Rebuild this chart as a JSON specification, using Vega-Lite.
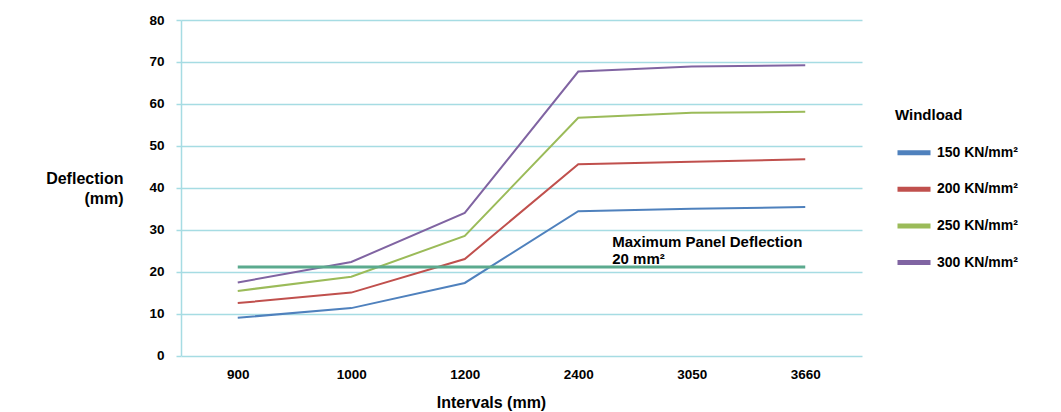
{
  "$schema": "https://vega.github.io/schema/vega-lite/v6.json",
  "width": 681,
  "height": 335.5,
  "autosize": {"type": "none"},
  "padding": {"left": 181, "top": 20, "right": 199, "bottom": 56.5},
  "background": "white",
  "config": {
    "view": {"stroke": null},
    "font": "Liberation Sans",
    "axis": {"labelFont": "Liberation Sans", "titleFont": "Liberation Sans"}
  },
  "datasets": {
    "series": [
      {"interval": "900", "windload": "150 KN/mm²", "deflection": 9.0},
      {"interval": "1000", "windload": "150 KN/mm²", "deflection": 11.3},
      {"interval": "1200", "windload": "150 KN/mm²", "deflection": 17.3},
      {"interval": "2400", "windload": "150 KN/mm²", "deflection": 34.4},
      {"interval": "3050", "windload": "150 KN/mm²", "deflection": 35.0},
      {"interval": "3660", "windload": "150 KN/mm²", "deflection": 35.4},
      {"interval": "900", "windload": "200 KN/mm²", "deflection": 12.5},
      {"interval": "1000", "windload": "200 KN/mm²", "deflection": 15.0},
      {"interval": "1200", "windload": "200 KN/mm²", "deflection": 23.0},
      {"interval": "2400", "windload": "200 KN/mm²", "deflection": 45.6},
      {"interval": "3050", "windload": "200 KN/mm²", "deflection": 46.2},
      {"interval": "3660", "windload": "200 KN/mm²", "deflection": 46.8},
      {"interval": "900", "windload": "250 KN/mm²", "deflection": 15.4},
      {"interval": "1000", "windload": "250 KN/mm²", "deflection": 18.8},
      {"interval": "1200", "windload": "250 KN/mm²", "deflection": 28.5},
      {"interval": "2400", "windload": "250 KN/mm²", "deflection": 56.7},
      {"interval": "3050", "windload": "250 KN/mm²", "deflection": 57.9},
      {"interval": "3660", "windload": "250 KN/mm²", "deflection": 58.1},
      {"interval": "900", "windload": "300 KN/mm²", "deflection": 17.4},
      {"interval": "1000", "windload": "300 KN/mm²", "deflection": 22.3},
      {"interval": "1200", "windload": "300 KN/mm²", "deflection": 34.0},
      {"interval": "2400", "windload": "300 KN/mm²", "deflection": 67.7},
      {"interval": "3050", "windload": "300 KN/mm²", "deflection": 68.9},
      {"interval": "3660", "windload": "300 KN/mm²", "deflection": 69.2}
    ],
    "limit": [
      {"interval": "900", "limit": 21.1},
      {"interval": "1000", "limit": 21.1},
      {"interval": "1200", "limit": 21.1},
      {"interval": "2400", "limit": 21.1},
      {"interval": "3050", "limit": 21.1},
      {"interval": "3660", "limit": 21.1}
    ],
    "note": [
      {"interval": "2400", "pos": 25.8, "label": "Maximum Panel Deflection\n20 mm²"}
    ]
  },
  "layer": [
    {
      "data": {"name": "series"},
      "mark": {"type": "line", "strokeWidth": 2},
      "encoding": {
        "x": {
          "field": "interval", "type": "ordinal",
          "sort": ["900", "1000", "1200", "2400", "3050", "3660"],
          "scale": {"padding": 0.5},
          "axis": {
            "title": "Intervals (mm)", "titleFontSize": 16, "titleFontWeight": "bold", "titleColor": "black",
            "titleX": 310, "titlePadding": 13,
            "labelFontSize": 13.5, "labelFontWeight": "bold", "labelColor": "black", "labelPadding": 12, "labelAngle": 0,
            "ticks": false, "tickSize": 0, "domain": false, "grid": false
          }
        },
        "y": {
          "field": "deflection", "type": "quantitative",
          "scale": {"domain": [0, 80], "nice": false},
          "axis": {
            "values": [0, 10, 20, 30, 40, 50, 60, 70, 80],
            "title": ["Deflection", "(mm)"], "titleFontSize": 16, "titleFontWeight": "bold", "titleColor": "black",
            "titleAngle": 0, "titleAlign": "right", "titleBaseline": "alphabetic", "titleX": -58, "titleY": 163, "titleLineHeight": 20,
            "labelFontSize": 13.5, "labelFontWeight": "bold", "labelColor": "black", "labelPadding": 12,
            "tickSize": 5, "tickColor": "#A6DCE3", "tickWidth": 1.5,
            "domainColor": "#A6DCE3", "domainWidth": 1.5,
            "gridColor": "#A6DCE3", "gridWidth": 1.5
          }
        },
        "color": {
          "field": "windload", "type": "nominal",
          "scale": {"domain": ["150 KN/mm²", "200 KN/mm²", "250 KN/mm²", "300 KN/mm²"], "range": ["#4F81BD", "#C0504D", "#9BBB59", "#8064A2"]},
          "legend": {
            "title": "Windload", "orient": "none", "legendX": 714, "legendY": 87.5,
            "titleFontSize": 15, "titleFontWeight": "bold", "titleColor": "black", "titlePadding": 11.2,
            "labelFontSize": 14, "labelFontWeight": "bold", "labelColor": "black", "labelOffset": 4,
            "symbolType": "stroke", "symbolSize": 1089, "symbolStrokeWidth": 5, "rowPadding": 7.6, "padding": 0
          }
        }
      }
    },
    {
      "data": {"name": "limit"},
      "mark": {"type": "line", "strokeWidth": 3, "color": "#5BAA8E"},
      "encoding": {
        "x": {"field": "interval", "type": "ordinal", "sort": ["900", "1000", "1200", "2400", "3050", "3660"]},
        "y": {"field": "limit", "type": "quantitative"}
      }
    },
    {
      "data": {"name": "note"},
      "mark": {"type": "text", "align": "left", "baseline": "alphabetic", "dx": 34, "fontSize": 15, "fontWeight": "bold", "color": "black", "lineBreak": "\n", "lineHeight": 17},
      "encoding": {
        "x": {"field": "interval", "type": "ordinal", "sort": ["900", "1000", "1200", "2400", "3050", "3660"]},
        "y": {"field": "pos", "type": "quantitative"},
        "text": {"field": "label"}
      }
    }
  ]
}
